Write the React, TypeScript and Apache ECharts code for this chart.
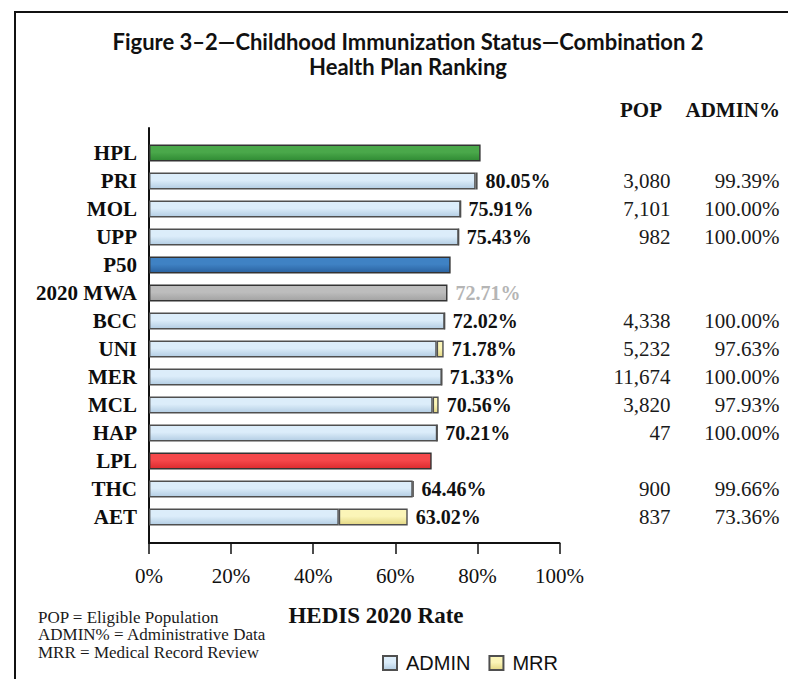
import React, { useEffect, useRef } from "react";
import * as echarts from "echarts";

const categories = ["HPL", "PRI", "MOL", "UPP", "P50", "2020 MWA", "BCC", "UNI", "MER", "MCL", "HAP", "LPL", "THC", "AET"];
const totals = [80.78, 80.05, 75.91, 75.43, 73.48, 72.71, 72.02, 71.78, 71.33, 70.56, 70.21, 68.86, 64.46, 63.02];
const refValues: (number | string)[] = [80.78, "-", "-", "-", 73.48, 72.71, "-", "-", "-", "-", "-", 68.86, "-", "-"];
const adminValues: (number | string)[] = ["-", 79.56, 75.91, 75.43, "-", "-", 72.02, 70.08, 71.33, 69.10, 70.21, "-", 64.24, 46.23];
const mrrValues: (number | string)[] = ["-", 0.49, 0, 0, "-", "-", 0, 1.70, 0, 1.46, 0, "-", 0.22, 16.79];
const showLabel = [false, true, true, true, false, true, true, true, true, true, true, false, true, true];
const popLabels = ["", "3,080", "7,101", "982", "", "", "4,338", "5,232", "11,674", "3,820", "47", "", "900", "837"];
const adminPctLabels = ["", "99.39%", "100.00%", "100.00%", "", "", "100.00%", "97.63%", "100.00%", "97.93%", "100.00%", "", "99.66%", "73.36%"];
const xTicks = [0, 20, 40, 60, 80, 100];
const refColors: Record<string, string[]> = {
  HPL: ["#4aa84a", "#2f8a33"],
  P50: ["#3f82c4", "#2a62a0"],
  "2020 MWA": ["#bdbdbd", "#a2a2a2"],
  LPL: ["#f5484b", "#dc2a2e"],
};
const notes = ["POP = Eligible Population", "ADMIN% = Administrative Data", "MRR = Medical Record Review"];

const SERIF = "'Liberation Serif', 'Times New Roman', serif";
const SANS = "'Liberation Sans', Arial, sans-serif";

function grad(a: string, b: string) {
  return new echarts.graphic.LinearGradient(0, 0, 0, 1, [
    { offset: 0, color: a },
    { offset: 0.45, color: a },
    { offset: 1, color: b },
  ]);
}

export default function App() {
  const ref = useRef<HTMLDivElement>(null);
  useEffect(() => {
    if (!ref.current) return;
    const chart = echarts.init(ref.current, null, { renderer: "svg" });
    const gridLeft = 149;
    const gridWidth = 410.5;

    const refData = refValues.map((v, i) => {
      const c = refColors[categories[i]];
      if (v === "-" || !c) return "-";
      return { value: v, itemStyle: { color: grad(c[0], c[1]) } };
    });
    const labelData = totals.map((v, i) => {
      if (!showLabel[i]) return "-";
      if (categories[i] === "2020 MWA") return { value: v, label: { color: "#b5b5b5" } };
      return v;
    });

    const barBase = {
      type: "bar",
      barWidth: 17,
      barGap: "-100%",
      xAxisIndex: 0,
      yAxisIndex: 0,
    };

    chart.setOption({
      animation: false,
      backgroundColor: "#ffffff",
      grid: [
        { left: gridLeft, top: 139, width: gridWidth, height: 392 },
        { left: gridLeft, top: 128, width: gridWidth, height: 415 },
      ],
      legend: {
        data: ["ADMIN", "MRR"],
        left: 377,
        top: 648,
        icon: "rect",
        itemWidth: 14,
        itemHeight: 14,
        itemGap: 18,
        textStyle: { fontFamily: SANS, fontSize: 20, color: "#111", padding: [0, 0, 0, 4] },
      },
      xAxis: [
        { type: "value", gridIndex: 0, min: 0, max: 100, show: false },
        {
          type: "value",
          gridIndex: 1,
          min: 0,
          max: 100,
          interval: 20,
          axisLine: { show: true, onZero: false, lineStyle: { color: "#111", width: 2 } },
          axisTick: { show: true, length: 11, lineStyle: { color: "#111", width: 1.5 } },
          splitLine: { show: false },
          axisLabel: {
            margin: 22,
            fontFamily: SERIF,
            fontSize: 21,
            color: "#111",
            formatter: (v: number) => (xTicks.includes(v) ? v + "%" : ""),
          },
        },
      ],
      yAxis: [
        {
          type: "category",
          gridIndex: 0,
          inverse: true,
          data: categories,
          axisLine: { show: false },
          axisTick: { show: false },
          axisLabel: { margin: 12, fontFamily: SERIF, fontWeight: "bold", fontSize: 21, color: "#0d0d0d" },
        },
        {
          type: "category",
          gridIndex: 0,
          inverse: true,
          position: "right",
          offset: 0,
          data: popLabels,
          axisLine: { show: false },
          axisTick: { show: false },
          axisLabel: { margin: 111, align: "right", fontFamily: SERIF, fontSize: 21, color: "#1a1a1a" },
        },
        {
          type: "category",
          gridIndex: 0,
          inverse: true,
          position: "right",
          offset: 0,
          data: adminPctLabels,
          axisLine: { show: false },
          axisTick: { show: false },
          axisLabel: { margin: 220, align: "right", fontFamily: SERIF, fontSize: 21, color: "#1a1a1a" },
        },
        {
          type: "value",
          gridIndex: 1,
          min: 0,
          max: 1,
          axisLine: { show: true, onZero: false, lineStyle: { color: "#111", width: 2 } },
          axisTick: { show: false },
          axisLabel: { show: false },
          splitLine: { show: false },
        },
      ],
      series: [
        {
          ...barBase,
          name: "REF",
          stack: "s",
          data: refData,
          itemStyle: { borderColor: "#333", borderWidth: 1.4 },
        },
        {
          ...barBase,
          name: "ADMIN",
          stack: "s",
          data: adminValues,
          itemStyle: { color: grad("#dcedfa", "#b3cde3"), borderColor: "#4f4f4f", borderWidth: 1.4 },
        },
        {
          ...barBase,
          name: "MRR",
          stack: "s",
          data: mrrValues,
          itemStyle: { color: grad("#fbf5b8", "#e3d783"), borderColor: "#4f4f4f", borderWidth: 1.4 },
        },
        {
          ...barBase,
          name: "LBL",
          silent: true,
          data: labelData,
          itemStyle: { color: "rgba(0,0,0,0)" },
          label: {
            show: true,
            position: "right",
            distance: 8,
            fontFamily: SERIF,
            fontWeight: "bold",
            fontSize: 20,
            color: "#111",
            formatter: (p: any) => Number(p.value).toFixed(2) + "%",
          },
        },
      ],
      graphic: [
        {
          type: "rect",
          z: -10,
          silent: true,
          shape: { x: 15, y: 12, width: 900, height: 900 },
          style: { fill: "none", stroke: "#111", lineWidth: 2 },
        },
        {
          type: "text",
          x: 408,
          y: 41,
          style: {
            text: "Figure 3–2—Childhood Immunization Status—Combination 2",
            textAlign: "center",
            textVerticalAlign: "middle",
            fontFamily: "Lato, 'Open Sans', sans-serif",
            fontWeight: "bold",
            fontSize: 22,
            fill: "#111",
          },
        },
        {
          type: "text",
          x: 408,
          y: 66,
          style: {
            text: "Health Plan Ranking",
            textAlign: "center",
            textVerticalAlign: "middle",
            fontFamily: "Lato, 'Open Sans', sans-serif",
            fontWeight: "bold",
            fontSize: 22,
            fill: "#111",
          },
        },
        {
          type: "text",
          x: 662,
          y: 110,
          style: { text: "POP", textAlign: "right", textVerticalAlign: "middle", fontFamily: SERIF, fontWeight: "bold", fontSize: 21, fill: "#111" },
        },
        {
          type: "text",
          x: 780,
          y: 110,
          style: { text: "ADMIN%", textAlign: "right", textVerticalAlign: "middle", fontFamily: SERIF, fontWeight: "bold", fontSize: 21, fill: "#111" },
        },
        {
          type: "text",
          x: 376,
          y: 615,
          style: { text: "HEDIS 2020 Rate", textAlign: "center", textVerticalAlign: "middle", fontFamily: SERIF, fontWeight: "bold", fontSize: 23, fill: "#111" },
        },
        ...notes.map((t, i) => ({
          type: "text",
          x: 38,
          y: 617 + i * 17.5,
          style: { text: t, textAlign: "left", textVerticalAlign: "middle", fontFamily: SERIF, fontSize: 17, fill: "#1a1a1a" },
        })),
      ],
    });
    return () => chart.dispose();
  }, []);

  return (
    <div
      ref={ref}
      style={{ position: "absolute", left: 0, top: 0, width: 788, height: 679, background: "#fff" }}
    />
  );
}
